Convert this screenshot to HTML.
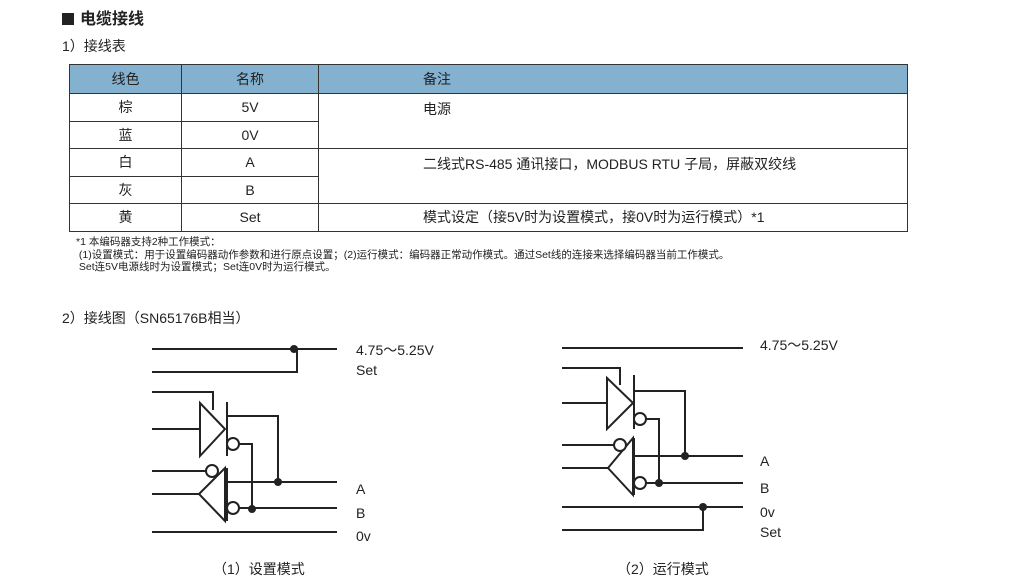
<!DOCTYPE html>
<html><head><meta charset="utf-8"><style>
body{margin:0;width:1029px;height:588px;background:#fff;position:relative;overflow:hidden;font-family:"Liberation Sans","Noto Sans CJK SC",sans-serif;color:#222}
.a{position:absolute;white-space:nowrap}
table{position:absolute;left:69px;top:64px;width:839px;border-collapse:collapse;font-size:14px;table-layout:fixed}
td{border:1px solid #333;height:26.5px;padding:0;text-align:center}
th{border:1px solid #333;background:#84b1d0;font-weight:normal;height:26px;text-align:center}
.n{font-size:10.5px;line-height:12.5px}
</style></head><body>
<div class="a" style="left:62px;top:5px;font-size:16px;font-weight:bold"><span style="display:inline-block;width:12px;height:12px;background:#222;margin-right:6px;vertical-align:-1px"></span>电缆接线</div>
<div class="a" style="left:62px;top:36px;font-size:14px">1）接线表</div>
<table>
<colgroup><col style="width:112px"><col style="width:137px"><col></colgroup>
<tr><th>线色</th><th>名称</th><th style="text-align:left;padding-left:104px">备注</th></tr>
<tr><td>棕</td><td>5V</td><td rowspan="2" style="text-align:left;padding-left:104px;vertical-align:top;padding-top:5px">电源</td></tr>
<tr><td>蓝</td><td>0V</td></tr>
<tr><td>白</td><td>A</td><td rowspan="2" style="text-align:left;padding-left:104px;vertical-align:top;padding-top:5px">二线式RS-485 通讯接口，MODBUS RTU 子局，屏蔽双绞线</td></tr>
<tr><td>灰</td><td>B</td></tr>
<tr><td>黄</td><td>Set</td><td style="text-align:left;padding-left:104px">模式设定（接5V时为设置模式，接0V时为运行模式）*1</td></tr>
</table>
<div class="a n" style="left:76px;top:236px">*1 本编码器支持2种工作模式：<br>&nbsp;(1)设置模式：用于设置编码器动作参数和进行原点设置；(2)运行模式：编码器正常动作模式。通过Set线的连接来选择编码器当前工作模式。<br>&nbsp;Set连5V电源线时为设置模式；Set连0V时为运行模式。</div>
<div class="a" style="left:62px;top:308px;font-size:14px">2）接线图（SN65176B相当）</div>
<svg class="a" style="left:0;top:0" width="1029" height="588" stroke="#222" stroke-width="2" fill="none">
<!-- diagram 1 -->
<path d="M152 349H337M152 372H297V349M152 392H213V410M152 429H200M200 403V456L225 429ZM227 402V456M227 416H278V482M239 444H252V509M152 471H206M152 494H199M199 494L225 468V521ZM227 468V521M227 482H337M239 508H337M152 532H337"/>
<circle cx="233" cy="444" r="6" fill="#fff"/><circle cx="212" cy="471" r="6" fill="#fff"/><circle cx="233" cy="508" r="6" fill="#fff"/>
<circle cx="294" cy="349" r="4" fill="#222" stroke="none"/><circle cx="278" cy="482" r="4" fill="#222" stroke="none"/><circle cx="252" cy="509" r="4" fill="#222" stroke="none"/>
<!-- diagram 2 -->
<path d="M562 348H743M562 368H620V385M562 403H607M607 378V429L633 403ZM634 375V429M634 391H685V456M646 419H659V483M562 445H614M562 468H608M608 468L633 438V495ZM634 438V495M634 456H743M646 483H743M562 507H743M562 530H703V507"/>
<circle cx="640" cy="419" r="6" fill="#fff"/><circle cx="620" cy="445" r="6" fill="#fff"/><circle cx="640" cy="483" r="6" fill="#fff"/>
<circle cx="685" cy="456" r="4" fill="#222" stroke="none"/><circle cx="659" cy="483" r="4" fill="#222" stroke="none"/><circle cx="703" cy="507" r="4" fill="#222" stroke="none"/>
</svg>
<div class="a" style="left:356px;top:340px;font-size:14px;line-height:20px">4.75～5.25V<br>Set</div>
<div class="a" style="left:356px;top:478px;font-size:14px;line-height:23.5px">A<br>B<br>0v</div>
<div class="a" style="left:760px;top:335px;font-size:14px">4.75～5.25V</div>
<div class="a" style="left:760px;top:448px;font-size:14px;line-height:27px">A<br>B</div>
<div class="a" style="left:760px;top:502px;font-size:14px;line-height:20px">0v<br>Set</div>
<div class="a" style="left:213px;top:559px;font-size:14px">（1）设置模式</div>
<div class="a" style="left:617px;top:559px;font-size:14px">（2）运行模式</div>
</body></html>
